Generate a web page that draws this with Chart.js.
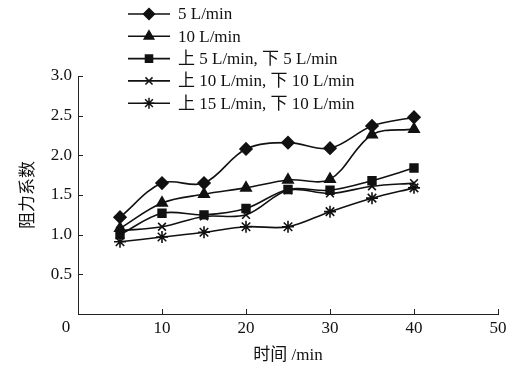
<!DOCTYPE html>
<html>
<head>
<meta charset="utf-8">
<script src="https://cdn.jsdelivr.net/npm/chart.js@4/dist/chart.umd.min.js"></script>
<style>
  html, body { margin: 0; padding: 0; background: #fff; }
  #wrap { width: 516px; height: 370px; }
</style>
</head>
<body>
<div id="wrap"><canvas id="c" width="516" height="370"></canvas></div>
<script>
// ---- data ----
const times = [5, 10, 15, 20, 25, 30, 35, 40];
const seriesNames = ['5 L/min', '10 L/min', '上 5 L/min, 下 5 L/min', '上 10 L/min, 下 10 L/min', '上 15 L/min, 下 10 L/min'];
const flow5      = [1.22, 1.65, 1.65, 2.08, 2.16, 2.09, 2.37, 2.48];
const flow10     = [1.08, 1.40, 1.51, 1.59, 1.69, 1.70, 2.26, 2.33];
const up5down5   = [1.00, 1.27, 1.25, 1.33, 1.57, 1.56, 1.68, 1.84];
const up10down10 = [1.05, 1.10, 1.23, 1.25, 1.56, 1.52, 1.61, 1.65];
const up15down10 = [0.91, 0.97, 1.03, 1.10, 1.10, 1.29, 1.46, 1.59];
const markers = ['rectRot', 'triangle', 'rect', 'crossRot', 'star'];
const markerSizes = [6, 6, 5.5, 5.5, 6];
const xTicks = [0, 10, 20, 30, 40, 50];
const yTicks = [0.5, 1.0, 1.5, 2.0, 2.5, 3.0];

const FONT = "'Liberation Serif', 'Noto Sans CJK SC', serif";
const allSeries = [flow5, flow10, up5down5, up10down10, up15down10];

const datasets = allSeries.map((vals, i) => ({
    label: seriesNames[i],
    data: times.map((t, k) => ({ x: t, y: vals[k] })),
    borderColor: '#111',
    backgroundColor: '#111',
    borderWidth: 1.6,
    pointStyle: markers[i],
    pointRadius: markerSizes[i],
    pointBorderWidth: 1.6,
    tension: 0.35,
    fill: false
}));

// inward tick marks, shifted "0" origin label, custom legend
const extras = {
    id: 'extras',
    afterDraw(chart) {
        const ctx = chart.ctx;
        const xs = chart.scales.x, ys = chart.scales.y;
        const area = chart.chartArea;
        ctx.save();
        ctx.strokeStyle = '#222';
        ctx.lineWidth = 1;
        xTicks.forEach(v => {
            const px = Math.round(xs.getPixelForValue(v)) + 0.5;
            ctx.beginPath(); ctx.moveTo(px, area.bottom); ctx.lineTo(px, area.bottom - 5); ctx.stroke();
        });
        yTicks.forEach(v => {
            const py = Math.round(ys.getPixelForValue(v)) + 0.5;
            ctx.beginPath(); ctx.moveTo(area.left, py); ctx.lineTo(area.left + 5, py); ctx.stroke();
        });

        ctx.font = '17px ' + FONT;
        ctx.fillStyle = '#111';
        ctx.textAlign = 'center';
        ctx.textBaseline = 'middle';
        ctx.fillText('0', xs.getPixelForValue(0) - 12, area.bottom + 14);

        // legend
        const lx = 128, ly = 14, gap = 22.3;
        ctx.textAlign = 'left';
        chart.data.datasets.forEach((ds, i) => {
            const y = ly + i * gap;
            ctx.lineWidth = 1.6;
            ctx.strokeStyle = '#111';
            ctx.beginPath(); ctx.moveTo(lx, y); ctx.lineTo(lx + 42, y); ctx.stroke();
            ctx.lineWidth = 1.5;
            Chart.helpers.drawPoint(ctx, { pointStyle: ds.pointStyle, radius: ds.pointRadius - 0.5, borderWidth: 1.5 }, lx + 21, y);
            ctx.fillText(ds.label, lx + 50, y + 1);
        });
        ctx.restore();
    }
};

new Chart(document.getElementById('c'), {
    type: 'line',
    data: { datasets },
    options: {
        responsive: false,
        animation: false,
        layout: { padding: { top: 76, right: 18, left: 14, bottom: 0 } },
        plugins: { legend: { display: false }, tooltip: { enabled: false } },
        scales: {
            x: {
                type: 'linear',
                min: 0, max: 50,
                afterBuildTicks: s => { s.ticks = xTicks.map(v => ({ value: v })); },
                afterFit: s => { s.height = 56; },
                grid: { display: false, drawTicks: false },
                border: { display: true, color: '#222', width: 1 },
                ticks: { color: '#111', font: { family: FONT, size: 17 }, padding: 4,
                         callback: v => (v === 0 ? '' : v) },
                title: { display: true, text: '时间 /min', color: '#111', font: { family: FONT, size: 17 }, padding: { top: 1 } }
            },
            y: {
                min: 0, max: 3,
                afterBuildTicks: s => { s.ticks = yTicks.map(v => ({ value: v })); },
                afterFit: s => { s.width = 64; },
                grid: { display: false, drawTicks: false },
                border: { display: true, color: '#222', width: 1 },
                ticks: { color: '#111', font: { family: FONT, size: 17 }, padding: 6, callback: v => v.toFixed(1) },
                title: { display: true, text: '阻力系数', color: '#111', font: { family: FONT, size: 17 }, padding: { bottom: 0 } }
            }
        }
    },
    plugins: [extras]
});
</script>
</body>
</html>
